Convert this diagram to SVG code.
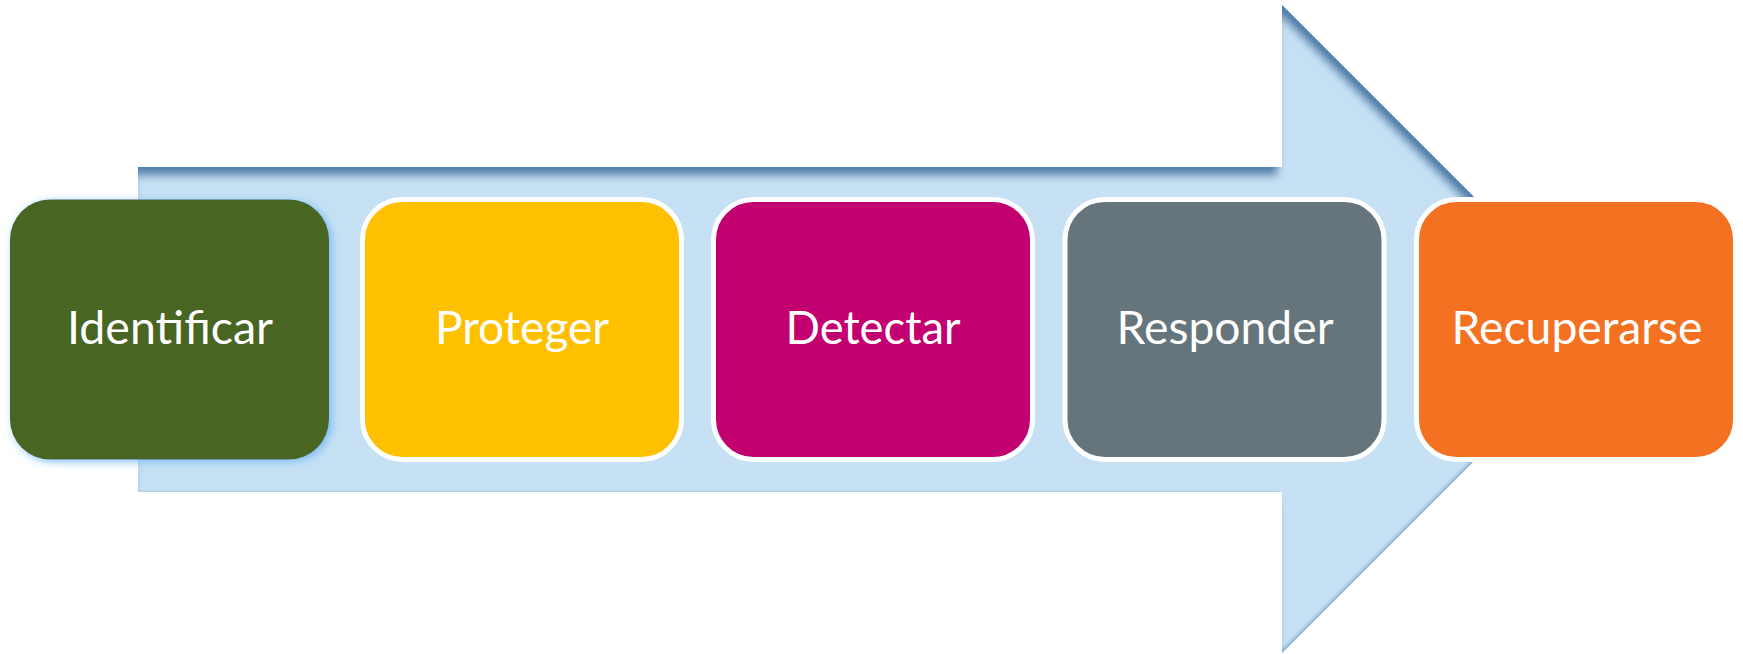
<svg xmlns="http://www.w3.org/2000/svg" width="1743" height="654" viewBox="0 0 1743 654">
  <defs>
    <filter id="innerShade" x="-5%" y="-5%" width="110%" height="110%">
      <feFlood flood-color="#4E7FAE" result="c1"/>
      <feComposite in="c1" in2="SourceAlpha" operator="out" result="outside1"/>
      <feOffset in="outside1" dx="-4" dy="9" result="off1"/>
      <feGaussianBlur in="off1" stdDeviation="4" result="blur1"/>
      <feComposite in="blur1" in2="SourceAlpha" operator="in" result="shadow1"/>
      <feFlood flood-color="#8FB6DA" result="c2"/>
      <feComposite in="c2" in2="SourceAlpha" operator="out" result="outside2"/>
      <feOffset in="outside2" dx="-3" dy="0" result="off2"/>
      <feGaussianBlur in="off2" stdDeviation="1.5" result="blur2"/>
      <feComposite in="blur2" in2="SourceAlpha" operator="in" result="shadow2"/>
      <feMerge>
        <feMergeNode in="SourceGraphic"/>
        <feMergeNode in="shadow2"/>
        <feMergeNode in="shadow1"/>
      </feMerge>
    </filter>
    <filter id="glow" x="-10%" y="-10%" width="120%" height="120%">
      <feFlood flood-color="#7DBCF2"/>
      <feComposite in2="SourceAlpha" operator="in"/>
      <feOffset dx="3" dy="2"/>
      <feGaussianBlur stdDeviation="4.5"/>
      <feMerge>
        <feMergeNode/>
        <feMergeNode in="SourceGraphic"/>
      </feMerge>
    </filter>
    <style>
      .box { stroke: #FFFFFF; stroke-width: 5; }
      .lbl { font-family: Lato, "Open Sans", "Liberation Sans", sans-serif; font-size: 46px; fill: #FFFFFF; text-anchor: middle; }
    </style>
  </defs>

  <g id="arrow">
    <polygon points="138,167 1282,167 1282,5 1606,329 1282,653 1282,492 138,492" fill="#C6E1F4" filter="url(#innerShade)"/>
  </g>

  <g id="connectors"></g>

  <g id="identificar">
    <rect x="10" y="199.5" width="319" height="260" rx="40" ry="40" fill="#4A6520" filter="url(#glow)"/>
    <text class="lbl" x="170" y="344" textLength="206" lengthAdjust="spacingAndGlyphs">Identificar</text>
  </g>
  <g id="proteger">
    <rect class="box" x="362.5" y="199.5" width="319" height="260" rx="40" ry="40" fill="#FFC000"/>
    <text class="lbl" x="522" y="344" textLength="174" lengthAdjust="spacingAndGlyphs">Proteger</text>
  </g>
  <g id="detectar">
    <rect class="box" x="713.5" y="199.5" width="319" height="260" rx="40" ry="40" fill="#C20070"/>
    <text class="lbl" x="873" y="344" textLength="175" lengthAdjust="spacingAndGlyphs">Detectar</text>
  </g>
  <g id="responder">
    <rect class="box" x="1065" y="199.5" width="319" height="260" rx="40" ry="40" fill="#66757C"/>
    <text class="lbl" x="1225" y="344" textLength="217" lengthAdjust="spacingAndGlyphs">Responder</text>
  </g>
  <g id="recuperarse">
    <rect class="box" x="1416.5" y="199.5" width="319" height="260" rx="40" ry="40" fill="#F37121"/>
    <text class="lbl" x="1577" y="344" textLength="251" lengthAdjust="spacingAndGlyphs">Recuperarse</text>
  </g>
</svg>
